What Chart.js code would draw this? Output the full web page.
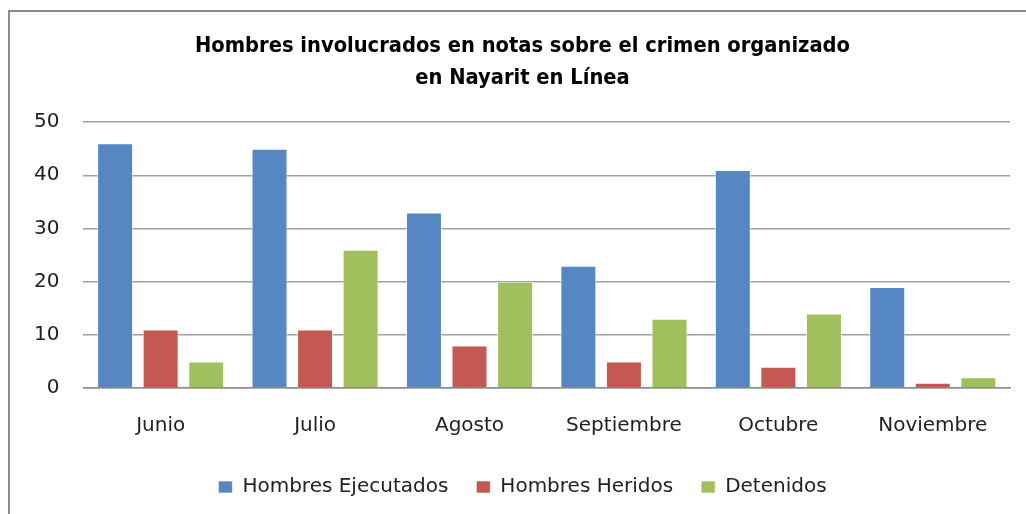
<!DOCTYPE html>
<html>
<head>
<meta charset="utf-8">
<script src="https://cdn.jsdelivr.net/npm/chart.js@4"></script>
<style>
html,body{margin:0;padding:0;background:#fff;}
#wrap{position:relative;width:1026px;height:514px;}
canvas{display:block;}
</style>
</head>
<body>
<div id="wrap"><canvas id="c" width="1026" height="514"></canvas></div>
<script>
const categories = ["Junio","Julio","Agosto","Septiembre","Octubre","Noviembre"];
const ejecutados = [46,45,33,23,41,19];
const heridos = [11,11,8,5,4,1];
const detenidos = [5,26,20,13,14,2];
const seriesNames = ["Hombres Ejecutados","Hombres Heridos","Detenidos"];
const titleLines = ["Hombres involucrados en notas sobre el crimen organizado","en Nayarit en Línea"];

const FONT = "'DejaVu Sans', sans-serif";
const TFONT = "'DejaVu Sans Condensed', 'DejaVu Sans', sans-serif";

const framePlugin = {
  id:'frame',
  beforeDraw(chart){
    const ctx = chart.ctx;
    ctx.save();
    ctx.fillStyle = '#fff';
    ctx.fillRect(0,0,chart.width,chart.height);
    ctx.strokeStyle = '#8c8c8c';
    ctx.lineWidth = 2;
    ctx.beginPath();
    ctx.moveTo(9, chart.height+5);
    ctx.lineTo(9, 11);
    ctx.lineTo(chart.width+5, 11);
    ctx.stroke();
    ctx.restore();
  }
};

const common = {borderColor:'rgba(255,255,255,0.6)', borderWidth:1, categoryPercentage:0.885, barPercentage:0.79};

new Chart(document.getElementById('c'), {
  type:'bar',
  data:{
    labels: categories,
    datasets:[
      Object.assign({label:seriesNames[0], data:ejecutados, backgroundColor:'#5588C3'}, common),
      Object.assign({label:seriesNames[1], data:heridos, backgroundColor:'#C45853'}, common),
      Object.assign({label:seriesNames[2], data:detenidos, backgroundColor:'#A0C05E'}, common)
    ]
  },
  plugins:[framePlugin],
  options:{
    responsive:false,
    animation:false,
    layout:{padding:{left:35, right:16, top:30, bottom:7}},
    plugins:{
      title:{display:true, text:titleLines, color:'#000', font:{family:TFONT, size:21.7, weight:'bold', lineHeight:1.5}, padding:{top:0,bottom:27}},
      legend:{position:'bottom', labels:{color:'#222', font:{family:FONT, size:20}, boxWidth:14, boxHeight:12, padding:28}},
      tooltip:{enabled:false}
    },
    scales:{
      x:{
        grid:{display:false, drawTicks:false},
        border:{display:true, color:'#8c8c8c', width:1.5},
        ticks:{color:'#222', font:{family:FONT, size:20}, padding:26},
        afterFit(scale){ scale.height -= 15; }
      },
      y:{
        min:0, max:50,
        grid:{color:'#a0a0a0', lineWidth:1.5, drawTicks:false},
        border:{display:false},
        ticks:{stepSize:10, color:'#222', font:{family:FONT, size:20}, padding:24},
        afterFit(scale){ scale.width -= 25; }
      }
    }
  }
});
</script>
</body>
</html>
